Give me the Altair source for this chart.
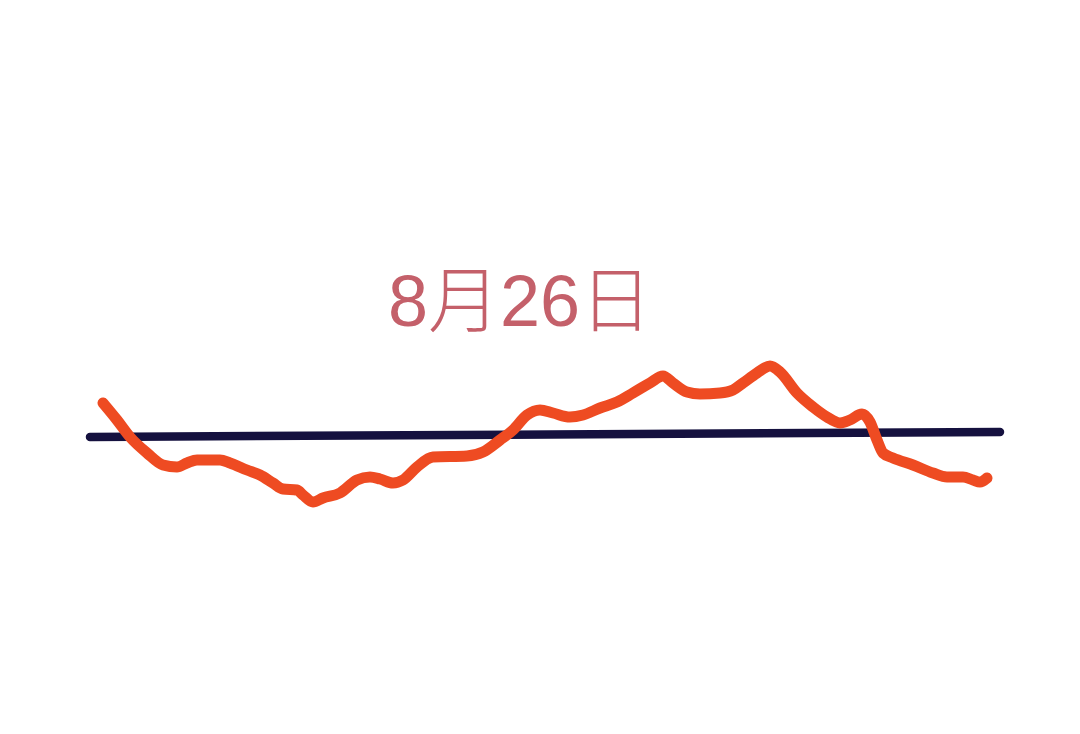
import altair as alt
import pandas as pd

# Orange price-like curve (x, y, image-pixel units)
curve_x = [103, 117, 130, 147, 163, 177, 187, 197, 220, 230, 247, 260, 273, 283, 297, 303,
           313, 323, 340, 357, 370, 380, 393, 403, 417, 433, 467, 483, 500, 513, 527, 540,
           553, 570, 583, 600, 617, 633, 650, 663, 673, 687, 700, 720, 733, 743, 757, 770,
           780, 797, 813, 827, 840, 850, 862, 870, 877, 883, 893, 913, 933, 947, 963, 973,
           980, 987]
curve_y = [403, 420, 437, 453, 465, 467, 463, 460, 460, 463, 470, 475, 483, 489, 490, 495,
           502, 498, 493, 480, 477, 479, 483, 480, 467, 457, 456, 452, 440, 430, 415, 410,
           413, 417, 415, 408, 402, 393, 383, 376, 383, 392, 394, 393, 390, 383, 373, 366,
           372, 393, 407, 417, 423, 420, 414, 422, 440, 453, 458, 465, 473, 477, 477, 480,
           482, 478]

# Navy reference line
ref_x = [90, 1000]
ref_y = [437, 432]

label_text = ["8月26日"]
label_x = [520]
label_y = [326]

curve = pd.DataFrame({"x": curve_x, "y": curve_y})
ref = pd.DataFrame({"x": ref_x, "y": ref_y})
label = pd.DataFrame({"x": label_x, "y": label_y, "t": label_text})

xs = alt.Scale(domain=[8, 1072], nice=False, zero=False)
ys = alt.Scale(domain=[726, 8], nice=False, zero=False)

X = alt.X("x:Q", scale=xs, axis=None)
Y = alt.Y("y:Q", scale=ys, axis=None)

ref_line = alt.Chart(ref).mark_line(color="#15113f", strokeWidth=8.5, strokeCap="round").encode(x=X, y=Y)
curve_line = alt.Chart(curve).mark_line(
    color="#ee4b22", strokeWidth=11, strokeCap="round", strokeJoin="round", interpolate="monotone"
).encode(x=X, y=Y, order="x:Q")
text = alt.Chart(label).mark_text(
    color="#c4606a", fontSize=72, font="Liberation Sans, Noto Sans CJK SC", fontWeight=300,
    align="center", baseline="alphabetic"
).encode(x=X, y=Y, text="t:N")

chart = alt.layer(ref_line, curve_line, text).properties(
    width=1064, height=718, padding=0,
    autosize=alt.AutoSizeParams(type="fit", contains="padding"),
    background="white",
).configure_view(stroke=None)

chart.save("out.html", embed_options={"renderer": "svg", "actions": False})
